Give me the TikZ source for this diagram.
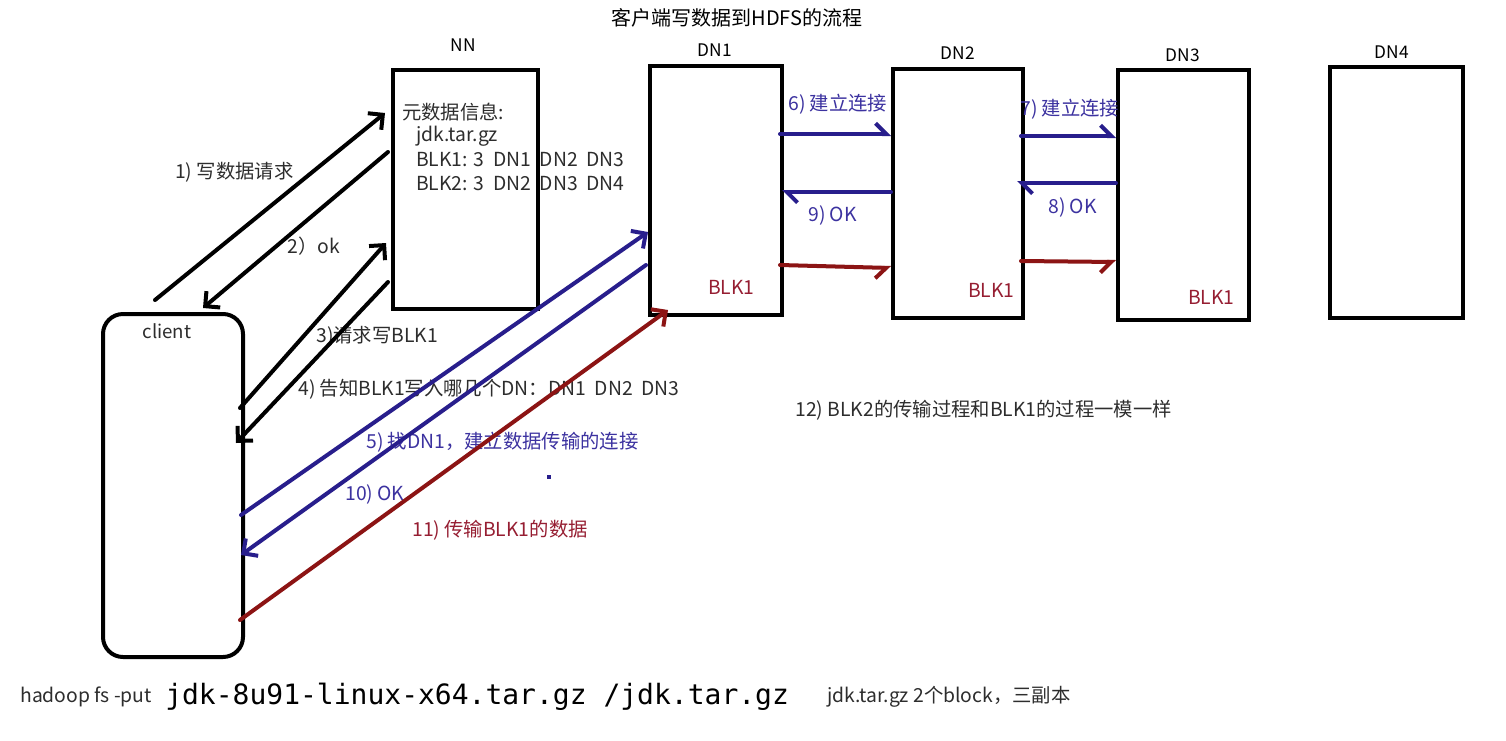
\documentclass[tikz,border=0pt]{standalone}
\usepackage{fontspec}
\setmainfont{Noto Sans CJK SC}
\newfontfamily\monof{DejaVu Sans Mono}
\usetikzlibrary{arrows.meta}
\definecolor{inkblue}{RGB}{40,30,140}
\definecolor{txtblue}{RGB}{60,50,160}
\definecolor{inkred}{RGB}{140,20,20}
\definecolor{txtred}{RGB}{150,30,50}
\definecolor{txtgray}{RGB}{45,45,45}
\begin{document}
\begin{tikzpicture}[x=0.75pt,y=-0.75pt,
  box/.style={draw, line width=3pt, inner sep=0pt, anchor=north west},
  lbl/.style={anchor=west, inner sep=0pt, text=txtgray, font=\fontsize{14.5}{17}\selectfont},
  ttl/.style={anchor=center, inner sep=0pt, text=black, font=\fontsize{13}{15}\selectfont},
  blk/.style={line width=3pt, line cap=round, -{Straight Barb[length=8pt,width=16pt]}},
  bluearr/.style={blk, draw=inkblue},
  redarr/.style={blk, draw=inkred},
  half/.style={line width=3pt, line cap=round, -{Straight Barb[length=8pt,width=16pt,harpoon]}},
  halfsw/.style={line width=3pt, line cap=round, -{Straight Barb[length=8pt,width=16pt,harpoon,swap]}}
]
\useasboundingbox (0,0) rectangle (1506,740);
\fill[white] (0,0) rectangle (1506,740);

% title
\node[ttl, font=\fontsize{15}{17}\selectfont] (title) at (737,18) {客户端写数据到HDFS的流程};

% boxes
\node[box, minimum width=108.75pt, minimum height=179.25pt] (nn) at (391,68) {};
\node[box, minimum width=99pt, minimum height=186.75pt] (dn1) at (648,64) {};
\node[box, minimum width=97.5pt, minimum height=186.75pt] (dn2) at (891,67) {};
\node[box, minimum width=98.25pt, minimum height=187.5pt] (dn3) at (1116,68) {};
\node[box, minimum width=99.75pt, minimum height=188.25pt] (dn4) at (1328,65) {};
\node[box, rounded corners=15pt, minimum width=105pt, minimum height=257.25pt] (client) at (101,312) {};

% box titles
\node[ttl] (nnt) at (463,45) {NN};
\node[ttl] (dn1t) at (715,50) {DN1};
\node[ttl] (dn2t) at (958,53) {DN2};
\node[ttl] (dn3t) at (1183,55) {DN3};
\node[ttl] (dn4t) at (1392,52) {DN4};
\node[ttl, text=txtgray, font=\fontsize{14}{16}\selectfont] (clientt) at (167,331) {client};

% NN content
\node[lbl] (m1) at (402,112) {元数据信息:};
\node[lbl] (m2) at (416,136) {jdk.tar.gz};
\node[lbl] (m3) at (416,160) {BLK1: 3\ \ DN1\ \ DN2\ \ DN3};
\node[lbl] (m4) at (416,184) {BLK2: 3\ \ DN2\ \ DN3\ \ DN4};

% BLK1 labels
\node[lbl, text=txtred] (b1) at (708,287) {BLK1};
\node[lbl, text=txtred] (b2) at (968,290) {BLK1};
\node[lbl, text=txtred] (b3) at (1188,297) {BLK1};

% step labels
\node[lbl] (l1) at (175,172) {1) 写数据请求};
\node[lbl] (l2) at (287,246) {2）ok};
\node[lbl] (l3) at (316,336) {3)请求写BLK1};
\node[lbl] (l4) at (298,389) {4) 告知BLK1写入哪几个DN：DN1\ \ DN2\ \ DN3};
\node[lbl, text=txtblue] (l5) at (366,442) {5) 找DN1，建立数据传输的连接};
\node[lbl, text=txtblue] (l10) at (345,494) {10) OK};
\node[lbl, text=txtred] (l11) at (412,530) {11) 传输BLK1的数据};
\node[lbl, text=txtblue] (l6) at (788,104) {6) 建立连接};
\node[lbl, text=txtblue] (l9) at (808,215) {9) OK};
\node[lbl, text=txtblue] (l7) at (1020,109) {7) 建立连接};
\node[lbl, text=txtblue] (l8) at (1048,207) {8) OK};
\node[lbl] (l12) at (795,410) {12) BLK2的传输过程和BLK1的过程一模一样};

% bottom line
\node[lbl, text=txtgray, font=\fontsize{14.5}{16}\selectfont] (cmd1) at (20,697) {hadoop fs -put};
\node[lbl, text=black, font=\monof\fontsize{21}{24}\selectfont] (cmd2) at (165,697) {jdk-8u91-linux-x64.tar.gz /jdk.tar.gz};
\node[lbl, text=txtgray, font=\fontsize{14.5}{16}\selectfont] (cmd3) at (827,697) {jdk.tar.gz 2个block，三副本};

% dot
\fill[inkblue] (547,475) rectangle (551,479);

% connector end points
\coordinate (c1s) at (155,300);  \coordinate (n1e) at (385,113);
\coordinate (n2s) at (388,152);  \coordinate (c2e) at (203,308);
\coordinate (c3s) at (240,408);  \coordinate (n3e) at (386,243);
\coordinate (n4s) at (388,282);  \coordinate (c4e) at (236,443);
\coordinate (c5s) at (241,515);  \coordinate (d5e) at (648,232);
\coordinate (d10s) at (646,265); \coordinate (c10e) at (241,555);
\coordinate (c11s) at (240,620); \coordinate (d11e) at (668,310);
\coordinate (d6s) at (780,134);  \coordinate (e6e) at (891,134);
\coordinate (e9s) at (891,192);  \coordinate (d9e) at (782,192);
\coordinate (dr1s) at (780,265); \coordinate (er1e) at (891,268);
\coordinate (e7s) at (1021,136); \coordinate (f7e) at (1116,136);
\coordinate (f8s) at (1116,183); \coordinate (e8e) at (1017,183);
\coordinate (er2s) at (1021,261); \coordinate (fr2e) at (1116,262);

% black arrows
\draw[blk] (c1s) -- (n1e);
\draw[blk] (n2s) -- (c2e);
\draw[blk] (c3s) -- (n3e);
\draw[blk] (n4s) -- (c4e);
% blue / red diagonal arrows
\draw[bluearr] (c5s) -- (d5e);
\draw[bluearr] (d10s) -- (c10e);
\draw[redarr] (c11s) -- (d11e);
% between data nodes
\draw[half, draw=inkblue] (d6s) -- (e6e);
\draw[half, draw=inkblue] (e9s) -- (d9e);
\draw[halfsw, draw=inkred] (dr1s) -- (er1e);
\draw[half, draw=inkblue] (e7s) -- (f7e);
\draw[half, draw=inkblue] (f8s) -- (e8e);
\draw[halfsw, draw=inkred] (er2s) -- (fr2e);
\end{tikzpicture}
\end{document}
